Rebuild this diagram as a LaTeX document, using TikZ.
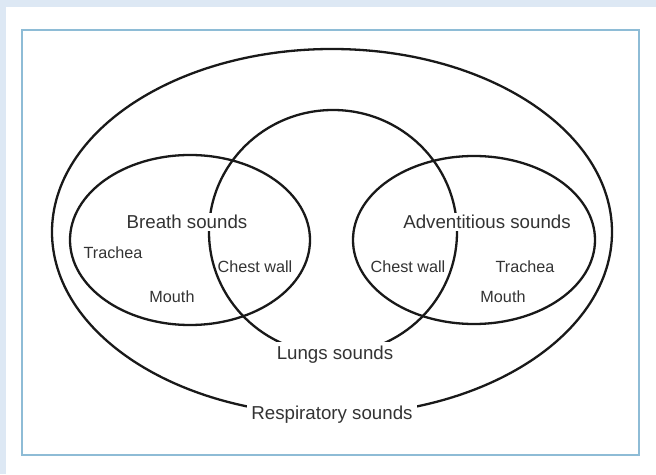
\documentclass[tikz,border=0pt]{standalone}
\usepackage{fontspec}
\setmainfont{Liberation Sans}
\definecolor{pagebg}{HTML}{DDE8F4}
\definecolor{framebl}{HTML}{8EBCD6}
\definecolor{inkgray}{HTML}{333333}
\tikzset{
  setline/.style={line width=2.3pt,draw=black!90},
  biglabel/.style={text=inkgray,font=\fontsize{18.7}{22}\selectfont,inner sep=2pt},
  smalllabel/.style={text=inkgray,font=\fontsize{16.2}{19}\selectfont,inner sep=1pt},
  cutlabel/.style={biglabel,fill=white,inner sep=4pt}
}
\begin{document}
\begin{tikzpicture}[x=1pt,y=1pt]
  \fill[pagebg] (0,0) rectangle (656,474);
  \fill[white] (6,0) rectangle (656,467);
  \draw[framebl,line width=2.2pt] (22,444) rectangle (639,19);
  \coordinate (R) at (332,242);
  \coordinate (L) at (333,242);
  \coordinate (B) at (190,234);
  \coordinate (A) at (474,234);
  \draw[setline] (R) ellipse[x radius=280,y radius=183];
  \draw[setline] (L) ellipse[x radius=124,y radius=122];
  \draw[setline] (B) ellipse[x radius=120,y radius=85];
  \draw[setline] (A) ellipse[x radius=121,y radius=84];
  \node[biglabel,fill=white] (breath) at (187,252){Breath sounds};
  \node[biglabel,fill=white] (advent) at (487,252){Adventitious sounds};
  \node[smalllabel] (tracheaB) at (113,221){Trachea};
  \node[smalllabel] (mouthB) at (172,177){Mouth};
  \node[smalllabel] (chestB) at (255,207){Chest wall};
  \node[smalllabel] (chestA) at (408,207){Chest wall};
  \node[smalllabel] (tracheaA) at (525,207){Trachea};
  \node[smalllabel] (mouthA) at (503,177){Mouth};
  \node[cutlabel] (lungs) at (335,119){Lungs sounds};
  \node[cutlabel] (resp) at (332,59){Respiratory sounds};
\end{tikzpicture}
\end{document}
